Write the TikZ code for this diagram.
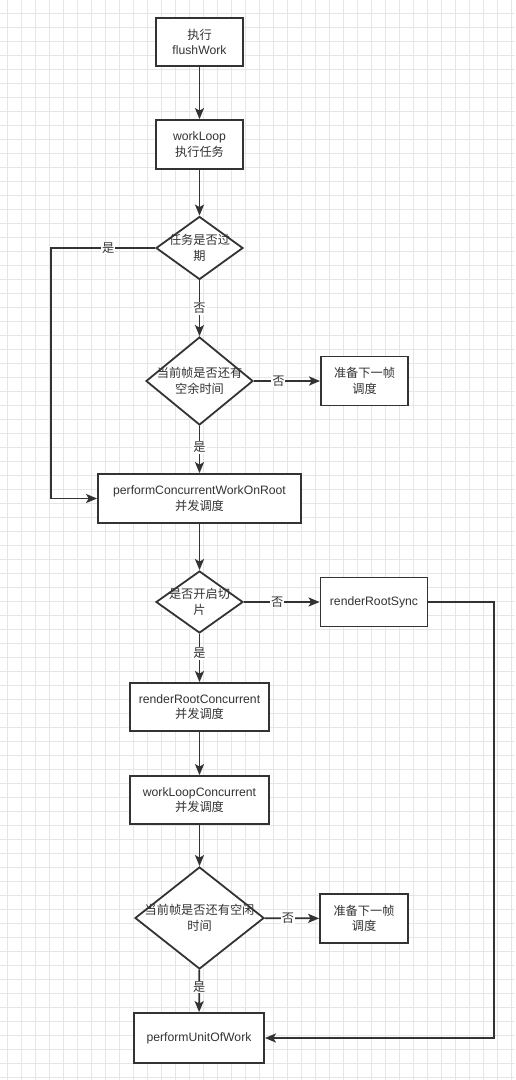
\documentclass[tikz,border=0pt]{standalone}
\usepackage{fontspec}
\setmainfont{Liberation Sans}
\newfontfamily\cj{Noto Sans CJK SC}
\usetikzlibrary{shapes.geometric,arrows.meta}
\definecolor{ink}{HTML}{333333}
\definecolor{gridc}{HTML}{E6E6E6}
\tikzset{
  x=1pt, y=-1pt,
  every node/.style={font=\fontsize{12.2}{15.5}\selectfont, text=ink},
  box/.style={draw=ink, line width=1.8pt, fill=white, rectangle, align=center, inner sep=0pt},
  cjbox/.style={box, font=\fontsize{12.2}{15.5}\selectfont\cj},
  dia/.style={draw=ink, line width=1.8pt, fill=white, diamond, inner sep=0pt},
  dtext/.style={align=center, inner sep=0pt, font=\fontsize{12.2}{15.5}\selectfont\cj},
  flow/.style={draw=ink, line width=1.8pt, -{Stealth[length=11pt,width=9pt,inset=2.5pt]}},
  lab/.style={fill=white, inner sep=1pt, font=\fontsize{12.2}{15.5}\selectfont\cj},
}
\begin{document}
\begin{tikzpicture}
% canvas and grid
\fill[white] (0,0) rectangle (515,1080);
\useasboundingbox (0,0) rectangle (515,1080);
\foreach \gx in {7,21,...,511} \draw[gridc, line width=0.7pt] (\gx,0) -- (\gx,1080);
\foreach \gy in {13,27,...,1079} \draw[gridc, line width=0.7pt] (0,\gy) -- (515,\gy);

% process boxes
\node[box, minimum width=87pt, minimum height=48pt] (flush) at (199.5,42) {{\cj 执行}\\flushWork};
\node[box, minimum width=87pt, minimum height=49pt] (loop) at (199.5,144.5) {workLoop\\{\cj 执行任务}};
\node[cjbox, minimum width=87pt, minimum height=49pt] (next1) at (364.5,381) {准备下一帧\\调度};
\node[box, minimum width=203pt, minimum height=49pt] (pcwr) at (199.5,498.5) {performConcurrentWorkOnRoot\\{\cj 并发调度}};
\node[box, minimum width=107pt, minimum height=49pt] (sync) at (374,602) {renderRootSync};
\node[box, minimum width=139pt, minimum height=48pt] (rrc) at (199.5,707) {renderRootConcurrent\\{\cj 并发调度}};
\node[box, minimum width=139pt, minimum height=48pt] (wlc) at (199.5,800) {workLoopConcurrent\\{\cj 并发调度}};
\node[cjbox, minimum width=88pt, minimum height=49pt] (next2) at (364,918.5) {准备下一帧\\调度};
\node[box, minimum width=130pt, minimum height=50pt] (unit) at (199,1038) {performUnitOfWork};

% decisions
\node[dia, minimum width=87pt, minimum height=63pt] (expired) at (199.5,248) {};
\node[dtext] at (expired) {任务是否过\\期};
\node[dia, minimum width=107pt, minimum height=88pt] (spare) at (199.5,381) {};
\node[dtext] at (spare) {当前帧是否还有\\空余时间};
\node[dia, minimum width=87pt, minimum height=62pt] (slice) at (199.5,602) {};
\node[dtext] at (slice) {是否开启切\\片};
\node[dia, minimum width=129pt, minimum height=102pt] (idle) at (199.5,918) {};
\node[dtext] at (idle) {当前帧是否还有空闲\\时间};

% connectors
\coordinate (lt) at (51,248);
\coordinate (lb) at (51,498.5);
\coordinate (rt) at (494,602);
\coordinate (rb) at (494,1038);
\draw[flow] (flush) -- (loop);
\draw[flow] (loop) -- (expired);
\draw[flow] (expired.west) -- node[lab, pos=0.45] {是} (lt) -- (lb) -- (pcwr.west);
\draw[flow] (expired) -- node[lab, pos=0.5] {否} (spare);
\draw[flow] (spare) -- node[lab, pos=0.37] {否} (next1);
\draw[flow] (spare) -- node[lab, pos=0.45] {是} (pcwr);
\draw[flow] (pcwr) -- (slice);
\draw[flow] (slice) -- node[lab, pos=0.44] {否} (sync);
\draw[flow] (slice) -- node[lab, pos=0.4] {是} (rrc);
\draw[flow] (rrc) -- (wlc);
\draw[flow] (wlc) -- (idle);
\draw[flow] (idle) -- node[lab, pos=0.43] {否} (next2);
\draw[flow] (idle) -- node[lab, pos=0.41] {是} (unit);
\draw[flow] (sync.east) -- (rt) -- (rb) -- (unit.east);
\end{tikzpicture}
\end{document}
